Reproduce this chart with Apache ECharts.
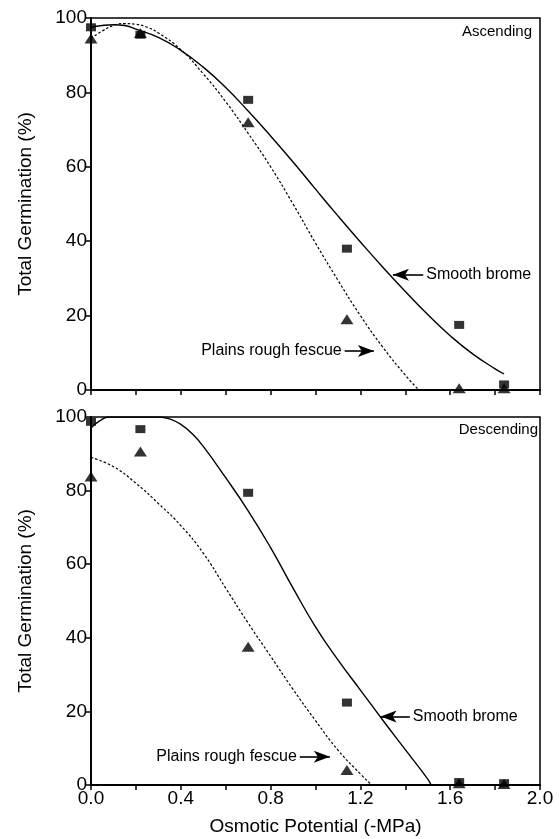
<!DOCTYPE html>
<html>
<head>
<meta charset="utf-8">
<script src="https://cdn.jsdelivr.net/npm/echarts@6/dist/echarts.min.js"></script>
<style>
html,body{margin:0;padding:0;background:#fff;}
#c{width:559px;height:839px;}
</style>
</head>
<body>
<div id="c"></div>
<script>
// Observed data points (x = osmotic potential, -MPa)
const xPts = [0, 0.22, 0.70, 1.14, 1.64, 1.84];
const ascBrome = [97.5, 95.5, 78, 38, 17.5, 1.5];
const ascFescue = [94.5, 96, 72, 19, 0.5, 0.5];
const descBrome = [98.7, 96.7, 79.4, 22.4, 0.8, 0.5];
const descFescue = [83.8, 90.6, 37.6, 4.1, 0.5, 0.3];

// Fitted curves
const ascBromeCurveX = [0,0.05,0.1,0.15,0.2,0.3,0.4,0.5,0.6,0.7,0.8,0.9,1.0,1.1,1.2,1.3,1.4,1.5,1.6,1.7,1.8,1.84];
const ascBromeCurveY = [97.5,98,98.2,98,97,94.8,91.3,86.8,81.3,75,68.3,61.3,54,46.8,39.8,33,26.5,20.3,14.6,9.7,5.7,4.3];
const ascFescueCurveX = [0,0.05,0.1,0.15,0.2,0.25,0.3,0.4,0.5,0.6,0.7,0.8,0.9,1.0,1.1,1.2,1.3,1.4,1.46];
const ascFescueCurveY = [94.5,96.5,98,98.5,98.3,97.5,96,91.5,85,77.5,69,60,50,39.5,29.5,20,11.5,4,0];
const descBromeCurveX = [0,0.04,0.08,0.15,0.25,0.3,0.35,0.4,0.45,0.5,0.6,0.7,0.8,0.9,1.0,1.1,1.2,1.3,1.4,1.5,1.515];
const descBromeCurveY = [97,99,100,100,100,100,99.5,98,95.5,92,83.5,74.5,64.5,53.5,43,34,25.8,17.6,9.6,1.6,0];
const descFescueCurveX = [0,0.1,0.2,0.3,0.4,0.5,0.6,0.7,0.8,0.9,1.0,1.1,1.2,1.25];
const descFescueCurveY = [89,86.5,82,76.5,70.5,63,53.5,44,35,26,17.5,9.5,3,0];

const xTickLabels = ['0.0','0.4','0.8','1.2','1.6','2.0'];
const panelTitles = ['Ascending', 'Descending'];
const broomeLabel = 'Smooth brome';
const fescueLabel = 'Plains rough fescue';
// annotation arrows: [tailX, tipX, y]
const ascBromeArrow = [1.48, 1.345, 31];
const ascFescueArrow = [1.13, 1.26, 10.5];
const descBromeArrow = [1.42, 1.29, 18.6];
const descFescueArrow = [0.93, 1.064, 7.7];

const FONT = "'Liberation Sans', Arial, Helvetica, sans-serif";
const zip = (a, b) => a.map((v, i) => [v, b[i]]);

function arrowLine(arrow, text) {
  return {
    silent: true,
    symbol: ['none', 'arrow'],
    symbolSize: [9, 16],
    lineStyle: {color: '#000', width: 1.6, type: 'solid'},
    label: {show: true, position: 'start', formatter: text, color: '#000', fontSize: 16, fontFamily: FONT, distance: 3},
    data: [[{coord: [arrow[0], arrow[2]]}, {coord: [arrow[1], arrow[2]]}]]
  };
}

function panelSeries(idx, bromeCX, bromeCY, fescCX, fescCY, bromePts, fescPts, bArrow, fArrow) {
  return [
    {type: 'line', xAxisIndex: idx, yAxisIndex: idx, data: zip(bromeCX, bromeCY), smooth: 0.5, showSymbol: false,
     lineStyle: {color: '#000', width: 1.4}, markLine: arrowLine(bArrow, broomeLabel), z: 3},
    {type: 'line', xAxisIndex: idx, yAxisIndex: idx, data: zip(fescCX, fescCY), smooth: 0.5, showSymbol: false,
     lineStyle: {color: '#000', width: 1.2, type: [2.5, 2]}, markLine: arrowLine(fArrow, fescueLabel), z: 3},
    {type: 'scatter', xAxisIndex: idx, yAxisIndex: idx, data: zip(xPts, bromePts), symbol: 'rect', symbolSize: [10, 8],
     itemStyle: {color: '#000'}, z: 4},
    {type: 'scatter', xAxisIndex: idx, yAxisIndex: idx, data: zip(xPts, fescPts), symbol: 'triangle', symbolSize: [13, 10],
     itemStyle: {color: '#000'}, z: 4}
  ];
}

function yAxis(idx) {
  return {
    type: 'value', gridIndex: idx, min: 0, max: 100, interval: 20,
    name: 'Total Germination (%)', nameLocation: 'middle', nameGap: 56,
    nameTextStyle: {color: '#000', fontSize: 19, fontFamily: FONT},
    axisLine: {show: true, lineStyle: {color: '#000', width: 2}},
    axisTick: {show: true, length: 5, lineStyle: {color: '#000', width: 1.5}},
    axisLabel: {color: '#000', fontSize: 19, fontFamily: FONT, margin: 4},
    splitLine: {show: false}
  };
}

function xAxis(idx, showLabels) {
  return {
    type: 'value', gridIndex: idx, min: 0, max: 2, interval: 0.2,
    name: showLabels ? 'Osmotic Potential (-MPa)' : '', nameLocation: 'middle', nameGap: 32,
    nameTextStyle: {color: '#000', fontSize: 19, fontFamily: FONT},
    axisLine: {show: true, onZero: false, lineStyle: {color: '#000', width: 2}},
    axisTick: {show: true, length: 5, lineStyle: {color: '#000', width: 1.5}},
    axisLabel: {
      show: showLabels, color: '#000', fontSize: 19, fontFamily: FONT, margin: 4,
      formatter: v => { const s = v.toFixed(1); return xTickLabels.indexOf(s) >= 0 ? s : ''; }
    },
    splitLine: {show: false}
  };
}

const chart = echarts.init(document.getElementById('c'), null, {renderer: 'canvas'});
chart.setOption({
  animation: false,
  backgroundColor: '#fff',
  grid: [
    {left: 91, top: 18, width: 449, height: 372, show: true, borderColor: '#000', borderWidth: 1.5, backgroundColor: 'transparent'},
    {left: 91, top: 417, width: 449, height: 368, show: true, borderColor: '#000', borderWidth: 1.5, backgroundColor: 'transparent'}
  ],
  xAxis: [xAxis(0, false), xAxis(1, true)],
  yAxis: [yAxis(0), yAxis(1)],
  title: [
    {text: panelTitles[0], right: 27, top: 24, textStyle: {color: '#000', fontSize: 15, fontWeight: 'normal', fontFamily: FONT}, padding: 0},
    {text: panelTitles[1], right: 21, top: 422, textStyle: {color: '#000', fontSize: 15, fontWeight: 'normal', fontFamily: FONT}, padding: 0}
  ],
  series: [].concat(
    panelSeries(0, ascBromeCurveX, ascBromeCurveY, ascFescueCurveX, ascFescueCurveY, ascBrome, ascFescue, ascBromeArrow, ascFescueArrow),
    panelSeries(1, descBromeCurveX, descBromeCurveY, descFescueCurveX, descFescueCurveY, descBrome, descFescue, descBromeArrow, descFescueArrow)
  )
});
</script>
</body>
</html>
